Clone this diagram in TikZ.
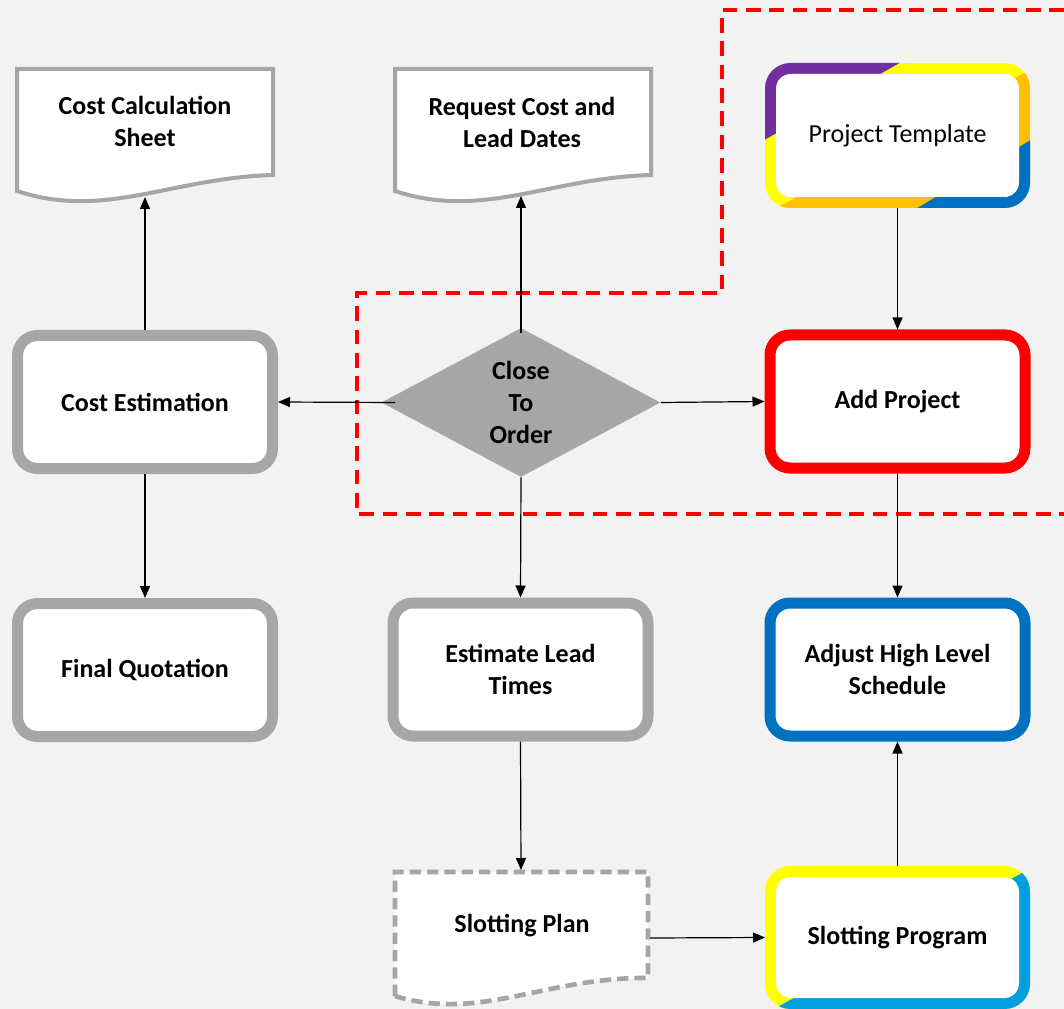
\documentclass[tikz,border=0pt]{standalone}
\usepackage{fontspec}
\setmainfont{Carlito}
\usepackage{tikz}
\usetikzlibrary{shapes.geometric,arrows.meta}
\definecolor{bg}{HTML}{F2F2F2}
\definecolor{grayb}{HTML}{A6A6A6}
\definecolor{blueb}{HTML}{0070C0}
\definecolor{purpb}{HTML}{7030A0}
\definecolor{goldb}{HTML}{FFC000}
\definecolor{yelb}{HTML}{FFFF00}
\definecolor{skyb}{HTML}{00A0E0}
\begin{document}
\begin{tikzpicture}[x=0.75pt,y=-0.75pt,
every node/.style={font=\fontsize{19.5}{24}\selectfont\bfseries},
box/.style={draw=#1,line width=8.25pt,fill=white,rounded corners=15pt,
	minimum width=191.25pt,minimum height=99.75pt,inner sep=0pt,align=center},
inbox/.style={fill=white,rounded corners=11pt,minimum width=182.25pt,
	minimum height=92.25pt,inner sep=0pt,outer sep=8.25pt,align=center},
doc/.style={draw=grayb,line width=3pt,fill=white,line join=miter},
link/.style={line width=0.9pt,-{Triangle[length=9pt,width=7.5pt]}}]
\fill[bg] (0,0) rectangle (1064,1009);
\useasboundingbox (0,0) rectangle (1064,1009);

%area of the order
\draw[red,line width=3pt,dash pattern=on 11pt off 6.5pt]
	(1064,10) -- (722,10) -- (722,293) -- (357,293) -- (357,514) -- (1064,514);

%documents
\draw[doc] (17,191) -- (17,69) -- (273,69) -- (273,175)
	.. controls (170,178) and (105,220) .. (17,191) -- cycle;
\draw[doc] (395,191) -- (395,69) -- (651,69) -- (651,175)
	.. controls (548,178) and (483,220) .. (395,191) -- cycle;
\draw[doc,line width=3.5pt,dash pattern=on 8.5pt off 4.5pt] (395,996) -- (395,872) -- (648,872) -- (648,978)
	.. controls (545,977) and (480,1022) .. (395,996) -- cycle;
\node[align=center] (sheet) at (145,121) {Cost Calculation\\Sheet};
\node[align=center] (req) at (522,122) {Request Cost and\\Lead Dates};
\node (plan) at (522,926) {Slotting Plan};
\coordinate (sheetb) at (145,197);
\coordinate (reqb) at (521,196);
\coordinate (plant) at (521,870);
\coordinate (planr) at (650,938);

%boxes with a coloured frame
\begin{scope}
\clip[rounded corners=19pt] (765,63) rectangle (1030,208);
\fill[yelb] (765,63) rectangle (1030,208);
\fill[purpb] (740,40) -- (940,40) -- (738,155) -- cycle;
\fill[goldb] (1068,49) -- (734,231) -- (1100,231) -- (1100,49) -- cycle;
\fill[blueb] (1064,120) -- (884,228) -- (1100,228) -- (1100,120) -- cycle;
\end{scope}
\node[inbox,font=\fontsize{19.5}{24}\selectfont] (tmpl) at (897.5,135.5) {Project Template};
\begin{scope}
\clip[rounded corners=19pt] (765,866) rectangle (1030,1009);
\fill[yelb] (765,866) rectangle (1030,1009);
\fill[skyb] (1064,850) -- (741,1027) -- (1100,1027) -- (1100,850) -- cycle;
\end{scope}
\node[inbox,minimum height=90.75pt] (slot) at (897.5,937.5) {Slotting Program};

%boxes
\node[box=grayb] (est) at (145,402) {Cost Estimation};
\node[box=grayb] (fin) at (145,670) {Final Quotation};
\node[box=grayb] (lead) at (520.5,669.5) {Estimate Lead\\Times};
\node[box=red] (add) at (897.5,401.5) {Add Project};
\node[box=blueb] (adj) at (897.5,669.5) {Adjust High Level\\Schedule};
\node[diamond,fill=grayb,shape aspect=1.87,minimum width=209.25pt,minimum height=111.75pt,
	inner sep=0pt,align=center] (close) at (521,402.5) {Close\\To\\Order};

%connectors
\foreach \a/\b in {est.north/sheetb,est.south/fin.north,close.east/add.west,
	close.south/lead.north,tmpl.south/add.north,add.south/adj.north,
	lead.south/plant,planr/slot.west,slot.north/adj.south}
	\draw[link] (\a) -- (\b);
\draw[link] ([yshift=-3.75pt]close.north) -- (reqb);
\draw[link] ([xshift=10.5pt]close.west) -- (est.east);
\end{tikzpicture}
\end{document}
